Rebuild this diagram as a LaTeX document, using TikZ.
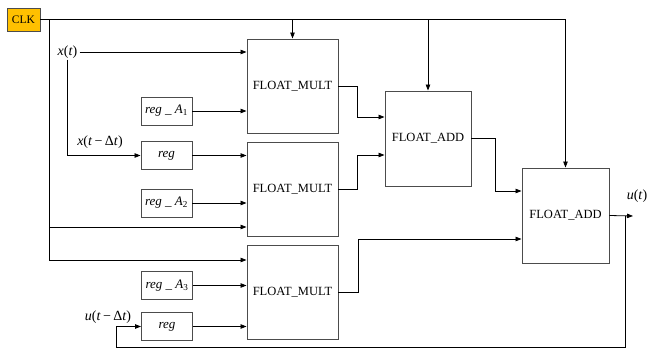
\documentclass[tikz,border=0pt]{standalone}
\usepackage{fontspec}
\setmainfont{Liberation Serif}
\usetikzlibrary{arrows.meta}
\definecolor{clkfill}{RGB}{255,192,0}
\begin{document}
\begin{tikzpicture}[x=1pt,y=-1pt,
  blk/.style={draw=black!70, line width=0.9pt, inner sep=0pt, font=\fontsize{12.5}{14}\selectfont},
  mult/.style={blk, minimum width=91pt, minimum height=94pt},
  add/.style={blk, minimum width=86pt, minimum height=95pt},
  regbox/.style={draw=black!70, line width=0.9pt, inner sep=0pt, minimum width=51pt, minimum height=28pt, font=\fontsize{13}{15}\selectfont},
  lbl/.style={inner sep=1pt, font=\fontsize{14}{16}\selectfont},
  wire/.style={draw=black, line width=0.8pt},
  arr/.style={wire, -{Triangle[length=6pt,width=4.5pt]}}]
\useasboundingbox (0,0) rectangle (648,348);

% blocks
\node[blk, fill=clkfill, minimum width=33pt, minimum height=23pt, font=\fontsize{11.5}{13}\selectfont] (clk) at (23.5,19.5) {CLK};
\node[mult] (m1) at (292.5,86) {FLOAT\_MULT};
\node[mult] (m2) at (292.5,189) {FLOAT\_MULT};
\node[mult] (m3) at (292.5,292) {FLOAT\_MULT};
\node[add] (a1) at (428,138.5) {FLOAT\_ADD};
\node[add, minimum width=87pt] (a2) at (565.5,215.5) {FLOAT\_ADD};

\node[regbox] (rA1) at (166.5,111) {\textit{reg} \_ \textit{A}\textsubscript{1}};
\node[regbox] (r1) at (166.5,155.5) {\textit{reg}};
\node[regbox] (rA2) at (166.5,203) {\textit{reg} \_ \textit{A}\textsubscript{2}};
\node[regbox] (rA3) at (167,285.5) {\textit{reg} \_ \textit{A}\textsubscript{3}};
\node[regbox] (r2) at (167,326.5) {\textit{reg}};

% labels
\node[lbl, inner xsep=2pt] (xt) at (67.5,52) {\textit{x}(\textit{t})};
\node[lbl] (xdt) at (100,142) {\textit{x}(\textit{t}\,−\,Δ\textit{t})};
\node[lbl] (udt) at (108,317) {\textit{u}(\textit{t}\,−\,Δ\textit{t})};
\node[lbl] (ut) at (637,196) {\textit{u}(\textit{t})};

% coordinates
\coordinate (cl) at (49,19.5);
\coordinate (b1) at (49,227);
\coordinate (b2) at (49,260);
\coordinate (j1) at (357,117);
\coordinate (j2) at (357,155);
\coordinate (j3) at (495,191);
\coordinate (j4) at (358,239);
\coordinate (uo) at (633,216);
\coordinate (fb) at (625,216);
\coordinate (fbb) at (625,347);
\coordinate (fbl) at (116,347);

% clock distribution
\draw[arr] (clk.east) -| (a2.north);
\draw[arr] (m1.north |- clk.east) -- (m1.north);
\draw[arr] (a1.north |- clk.east) -- (a1.north);
\draw[wire] (cl) -- (b2);
\draw[arr] (b1) -- (b1 -| m2.west);
\draw[arr] (b2) -- (b2 -| m3.west);

% inputs
\draw[arr] (xt.east) -- (xt.east -| m1.west);
\draw[arr] (xt.south) |- (r1.west);
\draw[arr] (rA1.east) -- (rA1.east -| m1.west);
\draw[arr] (r1.east) -- (r1.east -| m2.west);
\draw[arr] (rA2.east) -- (rA2.east -| m2.west);
\draw[arr] (rA3.east) -- (rA3.east -| m3.west);
\draw[arr] (r2.east) -- (r2.east -| m3.west);

% internal connections
\draw[arr] (m1.east) -| (j1) -- (j1 -| a1.west);
\draw[arr] (m2.east) -| (j2) -- (j2 -| a1.west);
\draw[arr] (a1.east) -| (j3) -- (j3 -| a2.west);
\draw[arr] (m3.east) -| (j4) -- (j4 -| a2.west);

% output and feedback
\draw[arr] (a2.east) -- (uo);
\draw[arr] (fb) -- (fbb) -- (fbl) |- (r2.west);
\end{tikzpicture}
\end{document}
